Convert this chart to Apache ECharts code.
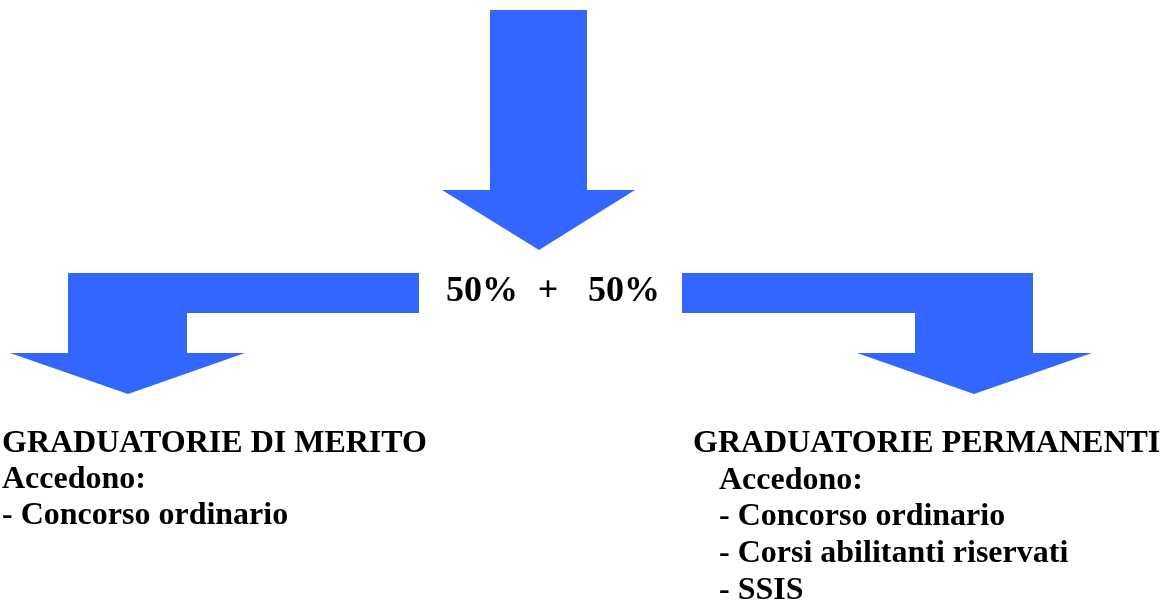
<!DOCTYPE html>
<html>
<head>
<meta charset="utf-8">
<script src="https://cdn.jsdelivr.net/npm/echarts@6/dist/echarts.min.js"></script>
<style>
html,body{margin:0;padding:0;background:#fff;}
#c{width:1174px;height:603px;}
</style>
</head>
<body>
<div id="c"></div>
<script>
// Arrow outlines (diagram units = page pixels)
const arrowTop = [[490,10],[587,10],[587,190],[635,190],[539,250],[442,190],[490,190]];
const arrowLeft = [[419,273],[419,313],[187,313],[187,353],[245,353],[128,394],[10,353],[68,353],[68,273]];
const arrowRight = [[682,273],[1033,273],[1033,353],[1092,353],[974,394],[857,353],[915,353],[915,313],[682,313]];
const arrows = [arrowTop, arrowLeft, arrowRight];

// Centre split label
const splitTexts = ['50%', '+', '50%'];
const splitAnchors = [[446,302,'left'],[548,302,'center'],[588,302,'left']];

// Left block
const leftLines = ['GRADUATORIE DI MERITO', 'Accedono:', '- Concorso ordinario'];
const leftAnchors = [[2,453],[2,489],[2,525]];

// Right block
const rightLines = ['GRADUATORIE PERMANENTI', 'Accedono:', '- Concorso ordinario', '- Corsi abilitanti riservati', '- SSIS'];
const rightAnchors = [[693,453],[719,490],[719,526],[719,563],[719,600]];

const FONT = '"Liberation Serif","Times New Roman",serif';
const DESCENT = 0.216;
const textData = [];
splitTexts.forEach((t,i)=>textData.push([splitAnchors[i][0], splitAnchors[i][1], t, 36, splitAnchors[i][2]]));
leftLines.forEach((t,i)=>textData.push([leftAnchors[i][0], leftAnchors[i][1], t, 32, 'left']));
rightLines.forEach((t,i)=>textData.push([rightAnchors[i][0], rightAnchors[i][1], t, 32, 'left']));

const chart = echarts.init(document.getElementById('c'), null, {renderer:'canvas'});
chart.setOption({
  backgroundColor:'#ffffff',
  animation:false,
  grid:{left:0,right:0,top:0,bottom:0},
  xAxis:{type:'value',min:0,max:1174,show:false},
  yAxis:{type:'value',min:0,max:603,inverse:true,show:false},
  series:[
    {
      type:'custom',
      coordinateSystem:'cartesian2d',
      data: arrows.map((a,i)=>[i]),
      encode:{x:-1,y:-1},
      renderItem:function(params, api){
        const pts = arrows[params.dataIndex].map(p=>api.coord(p));
        return {type:'polygon', shape:{points:pts}, style:{fill:'#3366FF', stroke:null}};
      },
      silent:true
    },
    {
      type:'custom',
      coordinateSystem:'cartesian2d',
      data: textData,
      encode:{x:0,y:1},
      renderItem:function(params, api){
        const d = textData[params.dataIndex];
        const p = api.coord([d[0], d[1]]);
        return {type:'text', x:p[0], y:p[1] + d[3]*DESCENT, style:{text:d[2], font:'bold '+d[3]+'px '+FONT, fill:'#000', textAlign:d[4], verticalAlign:'bottom'}};
      },
      silent:true
    }
  ]
});
</script>
</body>
</html>
